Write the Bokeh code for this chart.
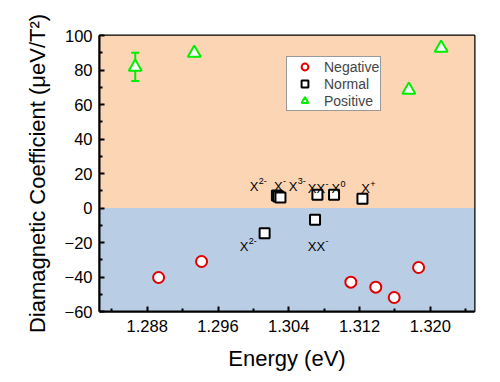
from bokeh.plotting import figure
from bokeh.models import (Range1d, FixedTicker, PrintfTickFormatter, BoxAnnotation,
                          Whisker, ColumnDataSource, TeeHead)
from bokeh.core.properties import value
from bokeh.embed import file_html
from bokeh.resources import INLINE

# ---- data ----
neg_x = [1.28928, 1.29414, 1.31102, 1.31384, 1.31592, 1.31868]
neg_y = [-40.3, -31.0, -43.0, -45.9, -51.9, -34.5]

norm_x = [1.30127, 1.30697, 1.30266, 1.30283, 1.30306, 1.30724, 1.30912, 1.31233]
norm_y = [-14.6, -6.8, 7.2, 6.7, 6.1, 7.7, 7.7, 5.3]

pos_x = [1.28664, 1.29332, 1.31758, 1.32123]
pos_y = [81.8, 89.9, 68.4, 92.8]
pos_err = [8.2, 0, 0, 0]

label_base = ["X", "X", "X", "XX", "X", "X", "X", "XX"]
label_sup = ["2-", "-", "3-", "-", "0", "+", "2-", "-"]
label_x = [1.29960, 1.30232, 1.30401, 1.30616, 1.30884, 1.31220, 1.29847, 1.30616]
label_y = [12.5, 12.5, 12.5, 11.3, 11.3, 11.3, -22.3, -22.3]

x_ticks = [1.288, 1.296, 1.304, 1.312, 1.320]
x_minor = [1.284, 1.292, 1.300, 1.308, 1.316, 1.324]
y_ticks = [-60, -40, -20, 0, 20, 40, 60, 80, 100]
y_minor = [-50, -30, -10, 10, 30, 50, 70, 90]

FONT = "Liberation Sans"

p = figure(width=490, height=380, output_backend="svg", toolbar_location=None,
           x_range=Range1d(1.2826, 1.3250), y_range=Range1d(-60, 100),
           min_border_left=99, min_border_right=16, min_border_top=35, min_border_bottom=69)

p.background_fill_color = "#FCD5B5"
p.border_fill_color = "white"
p.grid.visible = False
p.outline_line_color = "black"
p.outline_line_width = 2
p.outline_line_alpha = 1.0

p.add_layout(BoxAnnotation(bottom=0, fill_color="#FCD5B5", fill_alpha=1, line_alpha=0, level="underlay"))
p.add_layout(BoxAnnotation(top=0, fill_color="#B9CDE5", fill_alpha=1, line_alpha=0, level="underlay"))

for ax in (p.xaxis[0], p.yaxis[0]):
    ax.axis_line_width = 2
    ax.axis_line_color = "black"
    ax.major_tick_in = 5
    ax.major_tick_out = 0
    ax.minor_tick_in = 3
    ax.minor_tick_out = 0
    ax.major_tick_line_width = 2
    ax.minor_tick_line_width = 2
    ax.major_label_text_font = FONT
    ax.major_label_text_font_size = "16.5px"
    ax.major_label_text_color = "black"
    ax.axis_label_text_font = FONT
    ax.axis_label_text_font_size = "22px"
    ax.axis_label_text_font_style = "normal"
    ax.axis_label_text_color = "black"

p.xaxis.ticker = FixedTicker(ticks=x_ticks, minor_ticks=x_minor)
p.xaxis.formatter = PrintfTickFormatter(format="%.3f")
p.yaxis.ticker = FixedTicker(ticks=y_ticks, minor_ticks=y_minor)
p.xaxis.axis_label = "Energy (eV)"
p.yaxis.axis_label = "Diamagnetic Coefficient (μeV/T²)"
p.xaxis.major_label_standoff = 8
p.yaxis.major_label_standoff = 7
p.xaxis.axis_label_standoff = 11
p.yaxis.axis_label_standoff = 12

# error bar
src_err = ColumnDataSource(dict(x=pos_x[:1], upper=[pos_y[0] + pos_err[0]], lower=[pos_y[0] - pos_err[0]]))
w = Whisker(source=src_err, base="x", upper="upper", lower="lower", dimension="height",
            line_color="#00EE00", line_width=2,
            upper_head=TeeHead(size=8, line_color="#00EE00", line_width=2),
            lower_head=TeeHead(size=8, line_color="#00EE00", line_width=2))
p.add_layout(w)

p.scatter(neg_x, neg_y, marker="circle", size=11, line_color="#E00000", line_width=2,
          fill_color="white", legend_label="Negative")
p.scatter(norm_x, norm_y, marker="square", size=10, line_color="black", line_width=2,
          fill_color="white", legend_label="Normal")
p.scatter(pos_x, pos_y, marker="triangle", size=13, line_color="#00EE00", line_width=2,
          fill_color="white", legend_label="Positive")

# state labels: base letters plus raised superscripts
sup_dx = [8.7 * len(b) + 0.3 for b in label_base]
p.text(x=label_x, y=label_y, text=label_base, text_font=value(FONT),
       text_font_size=value("13px"), text_align="left", text_baseline="alphabetic",
       text_color="black")
p.text(x=label_x, y=label_y, text=label_sup, x_offset=sup_dx, y_offset=-5,
       text_font=value(FONT), text_font_size=value("9px"), text_align="left",
       text_baseline="alphabetic", text_color="black")

lg = p.legend[0]
lg.location = (187, 200)
lg.background_fill_color = "white"
lg.background_fill_alpha = 1
lg.border_line_color = "#999999"
lg.border_line_width = 1
lg.border_line_alpha = 1
lg.padding = 1
lg.margin = 0
lg.spacing = 0
lg.glyph_width = 33
lg.glyph_height = 17
lg.label_height = 17
lg.label_standoff = 3
lg.label_text_font = FONT
lg.label_text_font_size = "14px"

open("out.html", "w").write(file_html(p, INLINE))
